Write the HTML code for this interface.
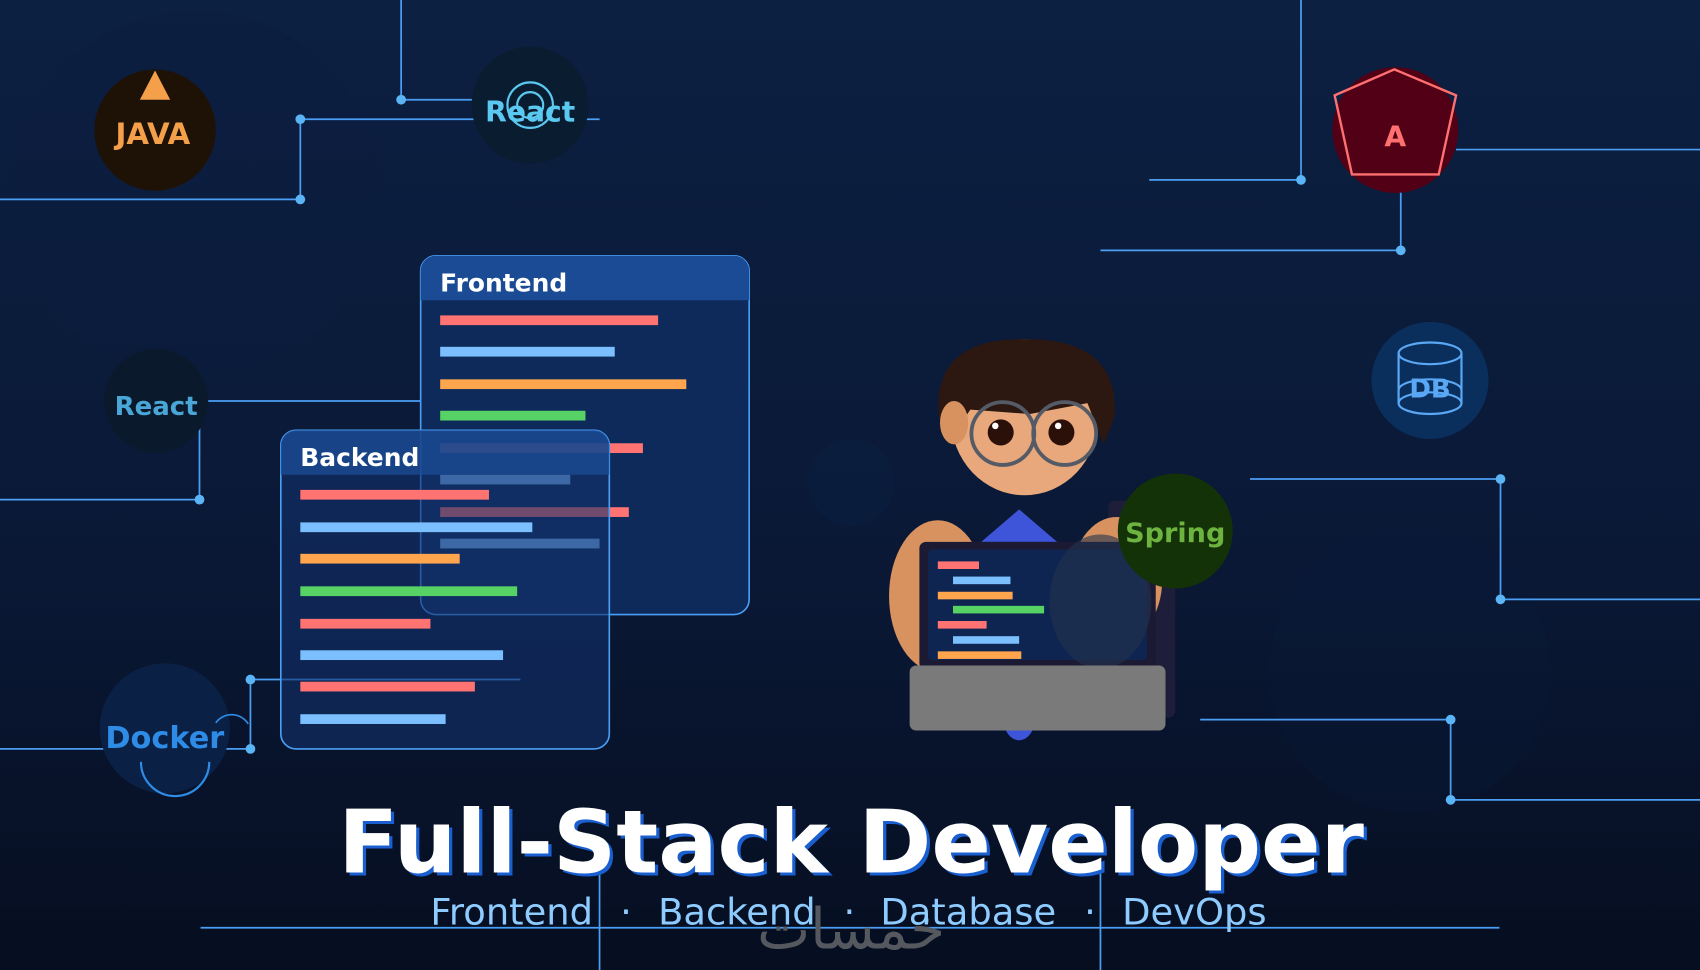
<!DOCTYPE html>
<html><head><meta charset="utf-8"><style>
html,body{margin:0;padding:0;width:1700px;height:970px;overflow:hidden;background:#0a1a36}
svg{display:block}
text{font-family:"DejaVu Sans","Liberation Sans",sans-serif;font-weight:bold}
</style></head><body>
<svg width="1700" height="970" viewBox="0 0 1568 895" preserveAspectRatio="none" xmlns="http://www.w3.org/2000/svg">
<defs>
<linearGradient id="bg" x1="0" y1="0" x2="0" y2="1">
<stop offset="0" stop-color="#0c2042"/><stop offset="0.6" stop-color="#0a1835"/><stop offset="1" stop-color="#060e20"/>
</linearGradient>
</defs>
<rect width="1568" height="895" fill="url(#bg)"/>
<circle cx="180" cy="180" r="170" fill="#0d1f40" opacity="0.3"/>
<circle cx="1300" cy="620" r="130" fill="#0b1a37" opacity="0.3"/>
<circle cx="785" cy="445" r="40" fill="#0e2448" opacity="0.3"/>

<g stroke="#4a9ff5" stroke-width="1.6" fill="none">
<polyline points="370,0 370,92 440,92"/>
<polyline points="553,110 277,110 277,184 0,184"/>
<polyline points="192,370 461,370"/>
<polyline points="184,395 184,461 0,461"/>
<polyline points="480,627 231,627 231,691 0,691"/>
<polyline points="1200,0 1200,166 1060,166"/>
<polyline points="1292,175 1292,231 1015,231"/>
<polyline points="1343,138 1568,138"/>
<polyline points="1153,442 1384,442 1384,553 1568,553"/>
<polyline points="1107,664 1338,664 1338,738 1568,738"/>
<polyline points="185,856 1383,856"/>
<polyline points="553,785 553,895"/>
<polyline points="1015,795 1015,895"/>
</g>
<g fill="#5ab4f5">
<circle cx="370" cy="92" r="4.5"/><circle cx="277" cy="110" r="4.5"/><circle cx="277" cy="184" r="4.5"/>
<circle cx="184" cy="461" r="4.5"/><circle cx="231" cy="627" r="4.5"/><circle cx="231" cy="691" r="4.5"/>
<circle cx="1200" cy="166" r="4.5"/><circle cx="1292" cy="231" r="4.5"/><circle cx="1384" cy="442" r="4.5"/>
<circle cx="1384" cy="553" r="4.5"/><circle cx="1338" cy="664" r="4.5"/><circle cx="1338" cy="738" r="4.5"/>
</g>

<!-- JAVA -->
<circle cx="143" cy="120" r="56" fill="#1e1206"/>
<polygon points="143,65 129,92 157,92" fill="#f4a04a"/>
<text x="141" y="133" font-size="27" fill="#f4a04a" text-anchor="middle">JAVA</text>
<!-- React top -->
<circle cx="489" cy="97" r="54" fill="#0a1d30"/>
<circle cx="489" cy="97" r="21" fill="none" stroke="#5ac8f0" stroke-width="2"/>
<circle cx="489" cy="97" r="12" fill="none" stroke="#5ac8f0" stroke-width="2"/>
<text x="489" y="112" font-size="26" fill="#5ac8f0" text-anchor="middle">React</text>
<!-- React left -->
<circle cx="144" cy="370" r="48" fill="#0a1a2c"/>
<text x="144" y="383" font-size="24" fill="#4aa6d6" text-anchor="middle">React</text>
<!-- Docker -->
<circle cx="152" cy="672" r="60" fill="#0a2145"/>
<path d="M130,703 A31,31 0 0 0 193,703" fill="none" stroke="#2e8ce6" stroke-width="2"/>
<path d="M199,667 A18,18 0 0 1 229,668" fill="none" stroke="#2e8ce6" stroke-width="1.5"/>
<text x="152" y="690" font-size="28" fill="#2e8ce6" text-anchor="middle">Docker</text>
<!-- Angular -->
<circle cx="1287" cy="120" r="58" fill="#520016"/>
<polygon points="1286,64 1343,88 1327,161 1247,161 1231,88" fill="none" stroke="#ff7070" stroke-width="2.2"/>
<text x="1287" y="135" font-size="26" fill="#ff7070" text-anchor="middle">A</text>
<!-- DB -->
<circle cx="1319" cy="351" r="54" fill="#0a2f5c"/>
<g fill="none" stroke="#5aa8f5" stroke-width="2">
<ellipse cx="1319" cy="326" rx="29" ry="10"/>
<line x1="1290" y1="326" x2="1290" y2="372"/><line x1="1348" y1="326" x2="1348" y2="372"/>
<ellipse cx="1319" cy="372" rx="29" ry="10"/>
<path d="M1290,360 A29,10 0 0 1 1348,360"/>
</g>
<text x="1319" y="367" font-size="24" fill="#5aa8f5" text-anchor="middle">DB</text>

<!-- Frontend card -->
<rect x="388" y="236" width="303" height="331" rx="14" fill="#0e2a5a" stroke="#4a9ff5" stroke-width="1.5"/>
<path d="M402,236 H677 A14,14 0 0 1 691,250 V277 H388 V250 A14,14 0 0 1 402,236 Z" fill="#1a4b94"/>
<text x="406" y="269" font-size="23" fill="#ffffff">Frontend</text>
<g>
<rect x="406" y="291" width="201" height="9" fill="#ff7373"/>
<rect x="406" y="320" width="161" height="9" fill="#7bbfff"/>
<rect x="406" y="350" width="227" height="9" fill="#ffa54d"/>
<rect x="406" y="379" width="134" height="9" fill="#56d364"/>
<rect x="406" y="409" width="187" height="9" fill="#ff7373"/>
<rect x="406" y="438" width="120" height="9" fill="#7bbfff"/>
<rect x="406" y="468" width="174" height="9" fill="#ff7373"/>
<rect x="406" y="497" width="147" height="9" fill="#7bbfff"/>
</g>
<!-- Backend card -->
<rect x="259" y="397" width="303" height="294" rx="14" fill="#12306a" fill-opacity="0.6" stroke="#4a9ff5" stroke-width="1.5"/>
<path d="M273,397 H548 A14,14 0 0 1 562,411 V438 H259 V411 A14,14 0 0 1 273,397 Z" fill="#1a4b94" fill-opacity="0.8"/>
<text x="277" y="430" font-size="23" fill="#ffffff">Backend</text>
<rect x="277" y="452" width="174" height="9" fill="#ff7373"/>
<rect x="277" y="482" width="214" height="9" fill="#7bbfff"/>
<rect x="277" y="511" width="147" height="9" fill="#ffa54d"/>
<rect x="277" y="541" width="200" height="9" fill="#56d364"/>
<rect x="277" y="571" width="120" height="9" fill="#ff7373"/>
<rect x="277" y="600" width="187" height="9" fill="#7bbfff"/>
<rect x="277" y="629" width="161" height="9" fill="#ff7373"/>
<rect x="277" y="659" width="134" height="9" fill="#7bbfff"/>

<!-- Person -->
<rect x="1022" y="462" width="62" height="200" rx="6" fill="#1e1e3a"/>
<ellipse cx="865" cy="550" rx="45" ry="70" fill="#d8925f"/>
<ellipse cx="1030" cy="535" rx="42" ry="58" fill="#d8925f"/>
<polygon points="940,470 905,500 975,500" fill="#3f55d9"/>
<ellipse cx="940" cy="665" rx="14" ry="18" fill="#3f55d9"/>
<ellipse cx="945" cy="385" rx="68" ry="72" fill="#e8a87c"/>
<path d="M866,385 C860,320 910,312 948,313 C995,313 1032,330 1028,385 L1018,410 L1003,372 L950,382 L895,378 L880,400 Z" fill="#2c1810"/>
<ellipse cx="880" cy="390" rx="13" ry="20" fill="#d8925f"/>
<g fill="none" stroke="#555b66" stroke-width="3.5"><circle cx="925" cy="400" r="29"/><circle cx="982" cy="400" r="29"/></g>
<circle cx="923" cy="399" r="12" fill="#2a1008"/><circle cx="979" cy="399" r="12" fill="#2a1008"/>
<circle cx="918" cy="393" r="3" fill="#fff"/><circle cx="976" cy="393" r="3" fill="#fff"/>
<rect x="848" y="500" width="218" height="118" rx="6" fill="#1c1a33"/>
<rect x="856" y="507" width="202" height="102" rx="4" fill="#0d2550"/>
<ellipse cx="1015" cy="555" rx="47" ry="62" fill="#23344f" opacity="0.6"/>
<rect x="865" y="518" width="38" height="7" fill="#ff7373"/>
<rect x="879" y="532" width="53" height="7" fill="#7bbfff"/>
<rect x="865" y="546" width="69" height="7" fill="#ffa54d"/>
<rect x="879" y="559" width="84" height="7" fill="#56d364"/>
<rect x="865" y="573" width="45" height="7" fill="#ff7373"/>
<rect x="879" y="587" width="61" height="7" fill="#7bbfff"/>
<rect x="865" y="601" width="77" height="7" fill="#ffa54d"/>
<rect x="839" y="614" width="236" height="60" rx="6" fill="#7a7a7a"/>
<!-- Spring -->
<circle cx="1084" cy="490" r="53" fill="#143208"/>
<text x="1084" y="500" font-size="25" fill="#6db33f" text-anchor="middle">Spring</text>

<!-- Title -->
<text x="788" y="808" font-size="81" fill="#1a5fd0" text-anchor="middle">Full-Stack Developer</text>
<text x="785" y="805" font-size="81" fill="#ffffff" text-anchor="middle">Full-Stack Developer</text>
<text x="785" y="875" font-size="52" fill="#55595f" text-anchor="middle" style="font-weight:normal">خمسات</text>
<text y="853" font-size="34" fill="#8ecbff" style="font-weight:normal">
<tspan x="397">Frontend</tspan><tspan x="572">·</tspan><tspan x="607">Backend</tspan><tspan x="778">·</tspan><tspan x="812">Database</tspan><tspan x="1000">·</tspan><tspan x="1035">DevOps</tspan>
</text>
</svg>
</body></html>
